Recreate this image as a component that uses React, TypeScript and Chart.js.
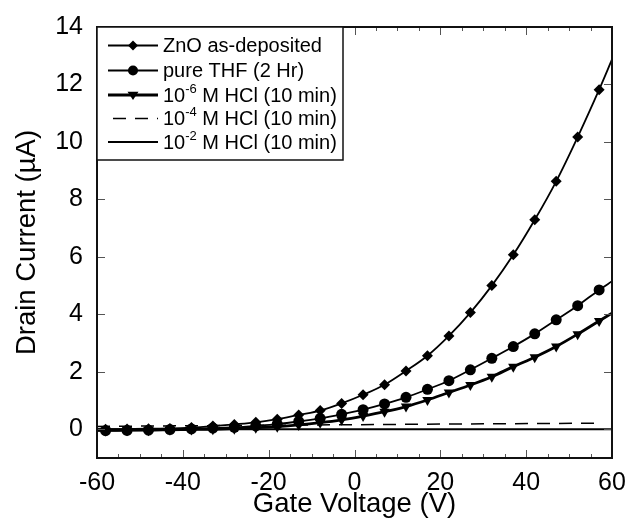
import React, { useEffect, useRef } from "react";
import { Chart, registerables } from "chart.js";

Chart.register(...registerables);

const FONT = "'Liberation Sans', Arial, Helvetica, sans-serif";

// Gate voltage sample points (V); endpoints -60 and 60 carry the line only (no marker)
const gateVoltage = [-60, -58, -53, -48, -43, -38, -33, -28, -23, -18, -13, -8, -3, 2, 7, 12, 17, 22, 27, 32, 37, 42, 47, 52, 57, 60];
const znoAsDeposited = [0.0, 0.0, 0.01, 0.02, 0.03, 0.06, 0.11, 0.17, 0.24, 0.35, 0.5, 0.65, 0.9, 1.2, 1.55, 2.03, 2.56, 3.25, 4.06, 5.0, 6.07, 7.29, 8.63, 10.17, 11.82, 12.87];
const pureTHF = [-0.05, -0.05, -0.04, -0.03, -0.01, 0.01, 0.04, 0.07, 0.12, 0.18, 0.27, 0.38, 0.52, 0.68, 0.88, 1.11, 1.39, 1.69, 2.07, 2.47, 2.88, 3.32, 3.81, 4.3, 4.85, 5.15];
const hcl6 = [-0.04, -0.04, -0.03, -0.03, -0.02, -0.01, 0.0, 0.02, 0.05, 0.09, 0.15, 0.23, 0.33, 0.46, 0.61, 0.79, 1.02, 1.28, 1.54, 1.83, 2.18, 2.51, 2.88, 3.31, 3.77, 4.04];
const hcl4Voltage = [-60, -30, 0, 30, 57];
const hcl4 = [0.1, 0.13, 0.16, 0.19, 0.21];
const hcl2Voltage = [-60, 60];
const hcl2 = [0, 0];

const xTicks = [-60, -40, -20, 0, 20, 40, 60];
const yTicks = [0, 2, 4, 6, 8, 10, 12, 14];

const legendItems = [
  { pre: "ZnO as-deposited", sup: "", post: "", marker: "rectRot", width: 1.8, dash: [] as number[] },
  { pre: "pure THF (2 Hr)", sup: "", post: "", marker: "circle", width: 1.8, dash: [] as number[] },
  { pre: "10", sup: "-6", post: " M HCl (10 min)", marker: "triangleDown", width: 2.8, dash: [] as number[] },
  { pre: "10", sup: "-4", post: " M HCl (10 min)", marker: "", width: 1.5, dash: [13, 9] },
  { pre: "10", sup: "-2", post: " M HCl (10 min)", marker: "", width: 2.2, dash: [] as number[] },
];

const toPts = (xs: number[], ys: number[]) => xs.map((x, i) => ({ x, y: ys[i] }));
const radii = (r: number) => gateVoltage.map((_, i) => (i === 0 || i === gateVoltage.length - 1 ? 0 : r));

function drawMarker(ctx: CanvasRenderingContext2D, kind: string, x: number, y: number) {
  ctx.beginPath();
  if (kind === "rectRot") {
    const r = 5;
    ctx.moveTo(x, y - r);
    ctx.lineTo(x + r, y);
    ctx.lineTo(x, y + r);
    ctx.lineTo(x - r, y);
    ctx.closePath();
  } else if (kind === "circle") {
    ctx.arc(x, y, 5, 0, Math.PI * 2);
  } else if (kind === "triangleDown") {
    const r = 5.5;
    ctx.moveTo(x - r, y - r * 0.6);
    ctx.lineTo(x + r, y - r * 0.6);
    ctx.lineTo(x, y + r * 0.9);
    ctx.closePath();
  }
  ctx.fill();
}

const framePlugin = {
  id: "frameTicks",
  afterDatasetsDraw(chart: any) {
    const { ctx, chartArea: a, scales } = chart;
    const xs = scales.x;
    const ys = scales.y;
    ctx.save();
    ctx.strokeStyle = "#555";
    ctx.lineWidth = 1;
    ctx.beginPath();
    for (let v = -60; v <= 60; v += 5) {
      const px = Math.round(xs.getPixelForValue(v)) + 0.5;
      const len = v % 20 === 0 ? 8 : 4;
      ctx.moveTo(px, a.bottom);
      ctx.lineTo(px, a.bottom - len);
      ctx.moveTo(px, a.top);
      ctx.lineTo(px, a.top + len);
    }
    for (const v of yTicks) {
      const py = Math.round(ys.getPixelForValue(v)) + 0.5;
      ctx.moveTo(a.left, py);
      ctx.lineTo(a.left + 8, py);
      ctx.moveTo(a.right, py);
      ctx.lineTo(a.right - 8, py);
    }
    ctx.stroke();
    ctx.strokeStyle = "#111";
    ctx.lineWidth = 2;
    ctx.strokeRect(a.left, a.top, a.right - a.left, a.bottom - a.top);

    // legend box
    const bx = a.left;
    const by = a.top;
    const bw = 246;
    const bh = 133;
    ctx.fillStyle = "#fff";
    ctx.fillRect(bx, by, bw, bh);
    ctx.lineWidth = 1.5;
    ctx.strokeStyle = "#111";
    ctx.strokeRect(bx, by, bw, bh);
    const rows = [45.5, 70.5, 95, 118.5, 142];
    legendItems.forEach((it, i) => {
      const y = rows[i];
      ctx.strokeStyle = "#000";
      ctx.fillStyle = "#000";
      ctx.lineWidth = it.width;
      ctx.setLineDash(it.dash);
      ctx.beginPath();
      ctx.moveTo(it.dash.length ? 113 : 108, y);
      ctx.lineTo(158, y);
      ctx.stroke();
      ctx.setLineDash([]);
      if (it.marker) drawMarker(ctx, it.marker, 133, y);
      ctx.textBaseline = "middle";
      ctx.textAlign = "left";
      ctx.font = `20px ${FONT}`;
      let tx = 163;
      ctx.fillText(it.pre, tx, y + 1);
      tx += ctx.measureText(it.pre).width;
      if (it.sup) {
        ctx.font = `13px ${FONT}`;
        ctx.fillText(it.sup, tx, y - 6);
        tx += ctx.measureText(it.sup).width;
        ctx.font = `20px ${FONT}`;
        ctx.fillText(it.post, tx, y + 1);
      }
    });
    ctx.restore();
  },
};

export default function App() {
  const ref = useRef<HTMLCanvasElement | null>(null);
  useEffect(() => {
    document.body.style.margin = "0";
    const canvas = ref.current;
    if (!canvas) return;
    const chart = new Chart(canvas, {
      type: "line",
      data: {
        datasets: [
          {
            label: "ZnO as-deposited",
            data: toPts(gateVoltage, znoAsDeposited),
            borderColor: "#000",
            backgroundColor: "#000",
            borderWidth: 1.8,
            pointStyle: "rectRot",
            pointRadius: radii(5.5),
            pointBorderWidth: 0,
            cubicInterpolationMode: "monotone",
          },
          {
            label: "pure THF (2 Hr)",
            data: toPts(gateVoltage, pureTHF),
            borderColor: "#000",
            backgroundColor: "#000",
            borderWidth: 1.8,
            pointStyle: "circle",
            pointRadius: radii(5.5),
            pointBorderWidth: 0,
            cubicInterpolationMode: "monotone",
          },
          {
            label: "10-6 M HCl (10 min)",
            data: toPts(gateVoltage, hcl6),
            borderColor: "#000",
            backgroundColor: "#000",
            borderWidth: 2.8,
            pointStyle: "triangle",
            pointRotation: 180,
            pointRadius: radii(6),
            pointBorderWidth: 0,
            cubicInterpolationMode: "monotone",
          },
          {
            label: "10-4 M HCl (10 min)",
            data: toPts(hcl4Voltage, hcl4),
            borderColor: "#000",
            borderWidth: 1.5,
            borderDash: [13, 9],
            pointRadius: 0,
          },
          {
            label: "10-2 M HCl (10 min)",
            data: toPts(hcl2Voltage, hcl2),
            borderColor: "#000",
            borderWidth: 2.2,
            pointRadius: 0,
          },
        ] as any,
      },
      options: {
        responsive: false,
        animation: false,
        devicePixelRatio: 1,
        layout: { padding: { top: 27, right: 16, left: 0, bottom: 0 } },
        plugins: { legend: { display: false }, tooltip: { enabled: false } },
        scales: {
          x: {
            type: "linear",
            min: -60,
            max: 60,
            afterBuildTicks: (s: any) => {
              s.ticks = xTicks.map((v) => ({ value: v }));
            },
            afterFit: (s: any) => {
              s.height = 61;
              s.paddingLeft = 0;
              s.paddingRight = 0;
            },
            grid: { display: false, drawTicks: false },
            border: { display: false },
            ticks: { color: "#000", font: { family: FONT, size: 25 }, padding: 10, maxRotation: 0 },
            title: {
              display: true,
              text: "Gate Voltage (V)",
              color: "#000",
              font: { family: FONT, size: 27.5, lineHeight: 1.05 },
              padding: { top: 0, bottom: 0 },
            },
          },
          y: {
            type: "linear",
            min: -1,
            max: 14,
            afterBuildTicks: (s: any) => {
              s.ticks = yTicks.map((v) => ({ value: v }));
            },
            afterFit: (s: any) => {
              s.width = 97;
              s.paddingTop = 0;
              s.paddingBottom = 0;
            },
            grid: { display: false, drawTicks: false },
            border: { display: false },
            ticks: { color: "#000", font: { family: FONT, size: 25 }, padding: 14 },
            title: {
              display: true,
              text: "Drain Current (µA)",
              color: "#000",
              font: { family: FONT, size: 27.5 },
              padding: { top: 11, bottom: 0 },
            },
          },
        },
      } as any,
      plugins: [framePlugin],
    });
    return () => chart.destroy();
  }, []);
  return <canvas ref={ref} width={628} height={519} style={{ display: "block" }} />;
}
